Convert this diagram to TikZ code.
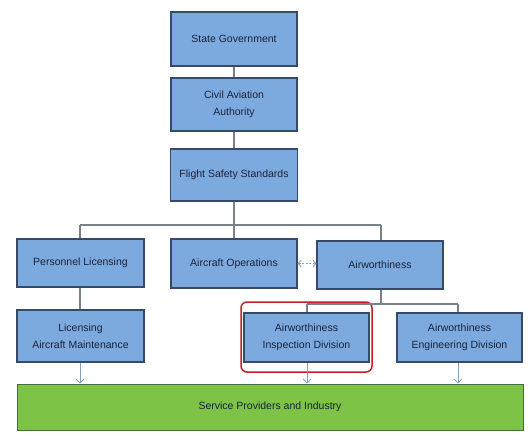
\documentclass[tikz,border=0pt]{standalone}
\usepackage{fontspec}
\setmainfont{Liberation Sans}
\usetikzlibrary{arrows.meta}
\definecolor{boxfill}{RGB}{125,170,222}
\definecolor{boxdraw}{RGB}{55,75,105}
\definecolor{greenfill}{RGB}{125,195,70}
\definecolor{greendraw}{RGB}{70,110,60}
\definecolor{linecol}{RGB}{120,130,140}
\definecolor{arrcol}{RGB}{130,160,190}
\definecolor{redcol}{RGB}{200,30,40}
\definecolor{txtcol}{RGB}{25,35,60}
\begin{document}
\begin{tikzpicture}[x=1pt,y=-1pt,
  orgbox/.style={draw=boxdraw,line width=1.3pt,fill=boxfill,inner sep=0pt,align=center,font=\fontsize{10.5}{17}\selectfont,text=txtcol},
  conn/.style={draw=linecol,line width=1.1pt},
  downarr/.style={draw=arrcol,line width=0.8pt,-{Straight Barb[length=4pt,width=8pt]}}]
\useasboundingbox (0,0) rectangle (529,433);
\fill[white] (0,0) rectangle (529,433);
% nodes
\node[orgbox,minimum width=126pt,minimum height=54pt] (sg) at (234,39) {State Government};
\node[orgbox,minimum width=126pt,minimum height=53pt] (caa) at (234,104.5) {Civil Aviation\\Authority};
\node[orgbox,minimum width=127pt,minimum height=52pt] (fss) at (234,175) {Flight Safety Standards};
\node[orgbox,minimum width=127pt,minimum height=48pt] (pl) at (80.5,263) {Personnel Licensing};
\node[orgbox,minimum width=126pt,minimum height=49pt] (ao) at (234,263.5) {Aircraft Operations};
\node[orgbox,minimum width=126pt,minimum height=48pt] (aw) at (380,265) {Airworthiness};
\node[orgbox,minimum width=127pt,minimum height=52pt] (lam) at (80.5,336) {Licensing\\Aircraft Maintenance};
\node[orgbox,minimum width=125pt,minimum height=49pt] (aid) at (306.5,337.5) {Airworthiness\\Inspection Division};
\node[orgbox,minimum width=125pt,minimum height=49pt] (aed) at (459.5,337.5) {Airworthiness\\Engineering Division};
\node[draw=greendraw,line width=1pt,fill=greenfill,minimum width=506pt,minimum height=46pt,inner sep=0pt,font=\fontsize{10.5}{13}\selectfont,text=txtcol] (spi) at (270,407) {Service Providers and Industry};
% red highlight
\node[draw=redcol,line width=1.5pt,rounded corners=6pt,minimum width=131pt,minimum height=70pt,inner sep=0pt] (hl) at (306.5,337) {};
% connectors
\coordinate (bus) at (234,225);
\coordinate (busL) at (80,225);
\coordinate (busR) at (381,225);
\coordinate (sub) at (381,304);
\coordinate (subL) at (307,304);
\coordinate (subR) at (458,304);
\draw[conn] (sg.south) -- (caa.north);
\draw[conn] (caa.south) -- (fss.north);
\draw[conn] (fss.south) -- (ao.north);
\draw[conn] (busL) -- (busR);
\draw[conn] (busL) -- (pl.north -| busL);
\draw[conn] (busR) -- (aw.north -| busR);
\draw[conn] (pl.south -| busL) -- (lam.north -| busL);
\draw[conn] (aw.south -| sub) -- (sub);
\draw[conn] (subL) -- (subR);
\draw[conn] (subL) -- (aid.north -| subL);
\draw[conn] (subR) -- (aed.north -| subR);
\draw[arrcol,line width=0.8pt,dashed,dash pattern=on 2pt off 1.5pt,{Straight Barb[length=3pt,width=7pt]}-{Straight Barb[length=3pt,width=7pt]}] (ao.east) -- (aw.west |- ao.east);
\draw[downarr] (lam.south -| busL) -- (spi.north -| busL);
\draw[downarr] (aid.south -| subL) -- (spi.north -| subL);
\draw[downarr] (aed.south -| subR) -- (spi.north -| subR);
\end{tikzpicture}
\end{document}
